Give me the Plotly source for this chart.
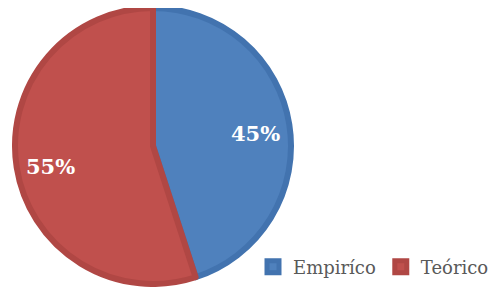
import math
import plotly.graph_objects as go

labels = ["Empiríco", "Teórico"]
values = [45, 55]
colors = ["#4F81BD", "#C0504D"]
edge_colors = ["#4273AF", "#B04744"]

# the page body adds an 8px offset, so the figure is drawn 8px smaller
OFF = 8
W, H = 496 - OFF, 287 - OFF
cx, cy, R = 153 - OFF, 146 - OFF, 138  # pie centre / radius in figure pixels

fig = go.Figure(go.Pie(
    labels=labels,
    values=values,
    sort=False,
    direction="clockwise",
    rotation=0,
    marker=dict(colors=colors, line=dict(color=edge_colors, width=6)),
    textinfo="none",
    domain=dict(x=[(cx - R) / W, (cx + R) / W],
                y=[max(0, 1 - (cy + R) / H), min(1, 1 - (cy - R) / H)]),
    showlegend=True,
    hoverinfo="label+percent",
))

# percentage labels placed along each slice's mid-angle
total = sum(values)
start = 0.0
for v in values:
    frac = v / total
    mid = (start + frac / 2) * 2 * math.pi
    r = 0.75 * R
    px = cx + r * math.sin(mid)
    py = cy + 4 - r * math.cos(mid)
    fig.add_annotation(
        x=px / W, y=1 - py / H, xref="paper", yref="paper",
        xanchor="center", yanchor="middle",
        text=f"<b>{round(frac * 100)}%</b>", showarrow=False,
        font=dict(family="Georgia, 'DejaVu Serif', serif", size=21, color="white"),
    )
    start += frac

fig.update_layout(
    width=W, height=H,
    margin=dict(l=0, r=0, t=0, b=0),
    paper_bgcolor="white",
    plot_bgcolor="white",
    legend=dict(
        orientation="h",
        x=(253 - OFF) / W, xanchor="left",
        y=1 - (267 - OFF) / H, yanchor="middle",
        font=dict(family="Georgia, 'DejaVu Serif', serif", size=18, color="#595959"),
        itemwidth=30,
        traceorder="normal",
        bgcolor="rgba(0,0,0,0)",
    ),
)

fig.write_html("out.html")
